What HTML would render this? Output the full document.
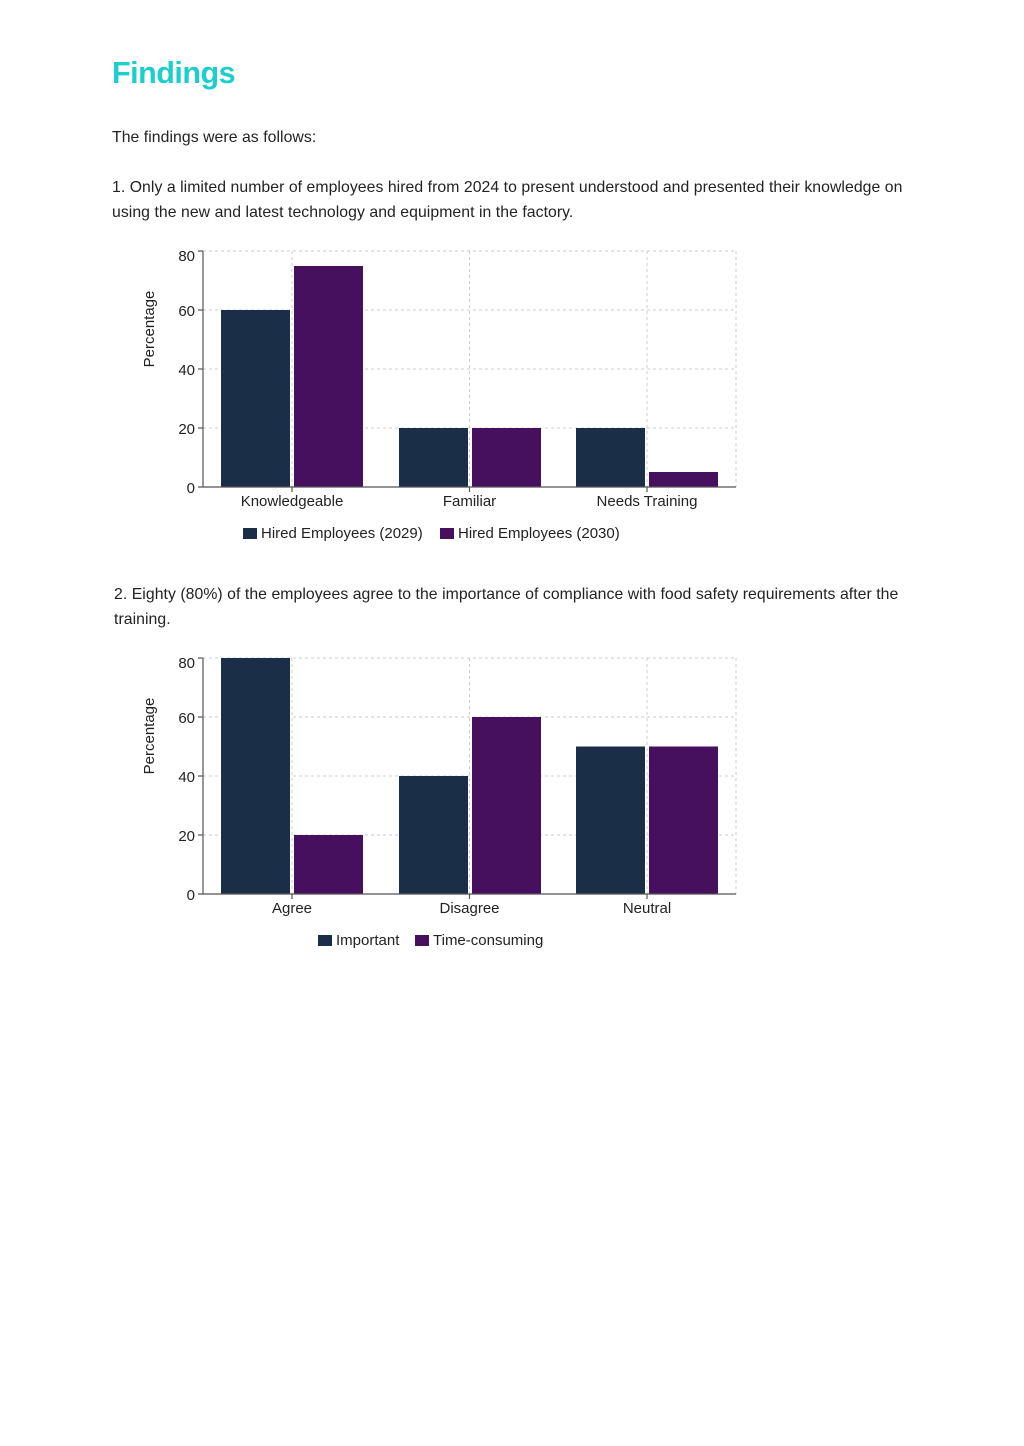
<!DOCTYPE html>
<html><head><meta charset="utf-8"><style>
body{margin:0;background:#fff;font-family:"Liberation Sans",sans-serif;color:#222;}
.p{position:absolute;left:112px;font-size:15.8px;line-height:25px;white-space:nowrap;letter-spacing:0.05px;}
h1{position:absolute;left:112px;top:56px;margin:0;font-size:30.5px;color:#1ccfcc;font-weight:bold;letter-spacing:-0.5px;}
svg{position:absolute;left:0;top:0}
text{font-family:"Liberation Sans",sans-serif;font-size:15px;fill:#222}
</style></head><body>
<h1>Findings</h1>
<div class="p" style="top:125px">The findings were as follows:</div>
<div class="p" style="top:175px">1. Only a limited number of employees hired from 2024 to present understood and presented their knowledge on<br>using the new and latest technology and equipment in the factory.</div>
<div class="p" style="top:582px;left:114px">2. Eighty (80%) of the employees agree to the importance of compliance with food safety requirements after the<br>training.</div>
<svg width="1024" height="1446">
<g>
<g stroke="#ccc" stroke-dasharray="3,3" stroke-width="1">
<line x1="203" y1="251" x2="736" y2="251"/><line x1="203" y1="310" x2="736" y2="310"/><line x1="203" y1="369" x2="736" y2="369"/><line x1="203" y1="428" x2="736" y2="428"/>
<line x1="292" y1="251" x2="292" y2="487"/><line x1="469.5" y1="251" x2="469.5" y2="487"/><line x1="647" y1="251" x2="647" y2="487"/><line x1="736" y1="251" x2="736" y2="487"/>
</g>
<rect x="221" y="310" width="69" height="177" fill="#1b2e47"/>
<rect x="294" y="266" width="69" height="221" fill="#46105e"/>
<rect x="399" y="428" width="69" height="59" fill="#1b2e47"/>
<rect x="472" y="428" width="69" height="59" fill="#46105e"/>
<rect x="576" y="428" width="69" height="59" fill="#1b2e47"/>
<rect x="649" y="472" width="69" height="15" fill="#46105e"/>
<g stroke="#555" stroke-width="1.2"><line x1="203" y1="251" x2="203" y2="487"/><line x1="198" y1="487" x2="736" y2="487"/>
<line x1="198" y1="251" x2="203" y2="251"/><line x1="198" y1="310" x2="203" y2="310"/><line x1="198" y1="369" x2="203" y2="369"/><line x1="198" y1="428" x2="203" y2="428"/>
<line x1="292" y1="487" x2="292" y2="492"/><line x1="469.5" y1="487" x2="469.5" y2="492"/><line x1="647" y1="487" x2="647" y2="492"/></g>
<g text-anchor="end"><text x="195" y="261">80</text><text x="195" y="316">60</text><text x="195" y="375">40</text><text x="195" y="434">20</text><text x="195" y="493">0</text></g>
<text transform="translate(154,329) rotate(-90)" text-anchor="middle">Percentage</text>
<g text-anchor="middle"><text x="292" y="506">Knowledgeable</text><text x="469.5" y="506">Familiar</text><text x="647" y="506">Needs Training</text></g>
<rect x="243" y="528" width="14" height="11" fill="#1b2e47"/><text x="261" y="538">Hired Employees (2029)</text>
<rect x="440" y="528" width="14" height="11" fill="#46105e"/><text x="458" y="538">Hired Employees (2030)</text>
</g>
<g>
<g stroke="#ccc" stroke-dasharray="3,3" stroke-width="1">
<line x1="203" y1="658" x2="736" y2="658"/><line x1="203" y1="717" x2="736" y2="717"/><line x1="203" y1="776" x2="736" y2="776"/><line x1="203" y1="835" x2="736" y2="835"/>
<line x1="292" y1="658" x2="292" y2="894"/><line x1="469.5" y1="658" x2="469.5" y2="894"/><line x1="647" y1="658" x2="647" y2="894"/><line x1="736" y1="658" x2="736" y2="894"/>
</g>
<rect x="221" y="658" width="69" height="236" fill="#1b2e47"/>
<rect x="294" y="835" width="69" height="59" fill="#46105e"/>
<rect x="399" y="776" width="69" height="118" fill="#1b2e47"/>
<rect x="472" y="717" width="69" height="177" fill="#46105e"/>
<rect x="576" y="746.5" width="69" height="147.5" fill="#1b2e47"/>
<rect x="649" y="746.5" width="69" height="147.5" fill="#46105e"/>
<g stroke="#555" stroke-width="1.2"><line x1="203" y1="658" x2="203" y2="894"/><line x1="198" y1="894" x2="736" y2="894"/>
<line x1="198" y1="658" x2="203" y2="658"/><line x1="198" y1="717" x2="203" y2="717"/><line x1="198" y1="776" x2="203" y2="776"/><line x1="198" y1="835" x2="203" y2="835"/>
<line x1="292" y1="894" x2="292" y2="899"/><line x1="469.5" y1="894" x2="469.5" y2="899"/><line x1="647" y1="894" x2="647" y2="899"/></g>
<g text-anchor="end"><text x="195" y="668">80</text><text x="195" y="723">60</text><text x="195" y="782">40</text><text x="195" y="841">20</text><text x="195" y="900">0</text></g>
<text transform="translate(154,736) rotate(-90)" text-anchor="middle">Percentage</text>
<g text-anchor="middle"><text x="292" y="913">Agree</text><text x="469.5" y="913">Disagree</text><text x="647" y="913">Neutral</text></g>
<rect x="318" y="935" width="14" height="11" fill="#1b2e47"/><text x="336" y="945">Important</text>
<rect x="415" y="935" width="14" height="11" fill="#46105e"/><text x="433" y="945">Time-consuming</text>
</g>
</svg>
</body></html>
